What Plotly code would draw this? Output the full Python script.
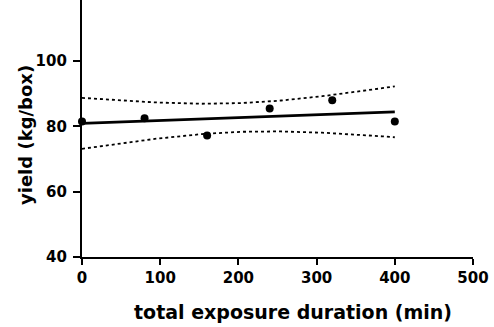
import numpy as np
import plotly.graph_objects as go

# Data
duration_min = [0, 80, 160, 240, 320, 400]
yield_kg_box = [81.5, 82.5, 77.2, 85.5, 88.0, 81.5]

x_ticks = [0, 100, 200, 300, 400, 500]
y_ticks = [40, 60, 80, 100, 120]

x_title = "total exposure duration (min)"
y_title = "yield (kg/box)"

# Linear regression with 95% confidence band
x = np.array(duration_min, dtype=float)
y = np.array(yield_kg_box, dtype=float)
slope, intercept = np.polyfit(x, y, 1)
n = len(x)
resid = y - (slope * x + intercept)
s = np.sqrt(np.sum(resid ** 2) / (n - 2))
sxx = np.sum((x - x.mean()) ** 2)
t_crit = 2.776  # t(0.975, df=4)
xf = np.linspace(x.min(), x.max(), 100)
yf = slope * xf + intercept
half = t_crit * s * np.sqrt(1.0 / n + (xf - x.mean()) ** 2 / sxx)

fig = go.Figure()
fig.add_trace(go.Scatter(x=xf, y=yf + half, mode="lines",
                         line=dict(color="black", width=1.8, dash="3px,3px"),
                         hoverinfo="skip", showlegend=False))
fig.add_trace(go.Scatter(x=xf, y=yf - half, mode="lines",
                         line=dict(color="black", width=1.8, dash="3px,3px"),
                         hoverinfo="skip", showlegend=False))
fig.add_trace(go.Scatter(x=xf, y=yf, mode="lines",
                         line=dict(color="black", width=2.8),
                         showlegend=False))
fig.add_trace(go.Scatter(x=duration_min, y=yield_kg_box, mode="markers",
                         marker=dict(color="black", size=8),
                         showlegend=False, cliponaxis=False))

font_family = "DejaVu Sans, sans-serif"
W, H = 494, 327
ML, MR, MT, MB = 82, 21, 0, 70
pw, ph = W - ML - MR, H - MT - MB


def px_to_paper(px, py):
    return (px - ML) / pw, 1 - (py - MT) / ph


tick_font = dict(family=font_family, size=15, color="black", weight="bold")
fig.update_layout(
    width=W, height=H,
    margin=dict(l=ML, r=MR, t=MT, b=MB),
    paper_bgcolor="white", plot_bgcolor="white",
    font=dict(family=font_family, color="black", size=12),
    xaxis=dict(range=[0, 500], tickvals=x_ticks, ticktext=[str(v) for v in x_ticks],
               showgrid=False, zeroline=False, showline=True, linecolor="black", linewidth=2.2,
               ticks="outside", ticklen=6, tickwidth=2.2, tickcolor="black",
               tickfont=tick_font),
    yaxis=dict(range=[40, 118.7], tickvals=y_ticks, ticktext=[str(v) for v in y_ticks],
               showgrid=False, zeroline=False, showline=True, linecolor="black", linewidth=2.2,
               ticks="outside", ticklen=7, tickwidth=2.2, tickcolor="black",
               ticklabelstandoff=3, tickfont=tick_font),
)

ax, ay = px_to_paper(293, 312)
fig.add_annotation(text="<b>" + x_title + "</b>", x=ax, y=ay, xref="paper", yref="paper",
                   showarrow=False, xanchor="center", yanchor="middle",
                   font=dict(family=font_family, size=19, color="black"))
bx, by = px_to_paper(25, 135)
fig.add_annotation(text="<b>" + y_title + "</b>", x=bx, y=by, xref="paper", yref="paper",
                   showarrow=False, textangle=-90, xanchor="center", yanchor="middle",
                   font=dict(family=font_family, size=18, color="black"))

fig.write_html("out.html")
